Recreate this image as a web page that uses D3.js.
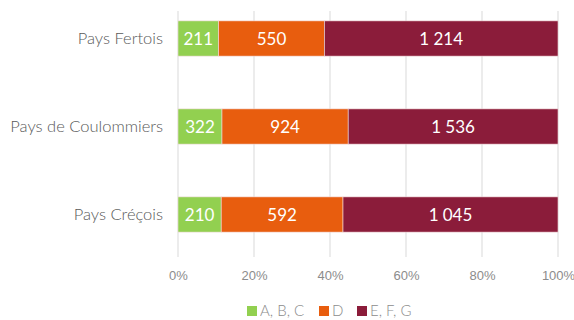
<!DOCTYPE html>
<html>
<head>
<meta charset="utf-8">
<script src="https://cdn.jsdelivr.net/npm/d3@7"></script>
<style>
  html, body { margin: 0; padding: 0; background: #fff; }
  svg { display: block; font-family: "Lato", "Open Sans", sans-serif; }
</style>
</head>
<body>
<svg id="chart" width="574" height="320"></svg>
<script>
// Territories and their counts per class group
const categories = ["Pays Fertois", "Pays de Coulommiers", "Pays Créçois"];
const seriesNames = ["A, B, C", "D", "E, F, G"];
const seriesColors = ["#92d050", "#e85d0e", "#8b1c3a"];
const valuesABC = [211, 322, 210];
const valuesD = [550, 924, 592];
const valuesEFG = [1214, 1536, 1045];
const tickValues = [0, 0.2, 0.4, 0.6, 0.8, 1];

const rows = categories.map((c, i) => ({
  name: c,
  vals: [valuesABC[i], valuesD[i], valuesEFG[i]]
}));

const svg = d3.select("#chart");
const x = d3.scaleLinear().domain([0, 1]).range([178, 558]);
const y = d3.scaleBand().domain(categories).range([-5.5, 258.5]).paddingInner(0.6).paddingOuter(0.3);

const fmt = v => d3.format(",")(v).replace(/,/g, "\u202f");

// vertical gridlines
svg.append("g").selectAll("line").data(tickValues).join("line")
  .attr("x1", d => x(d)).attr("x2", d => x(d))
  .attr("y1", 11).attr("y2", 257)
  .attr("stroke", "#d9d9d9").attr("stroke-width", 1);

// x axis tick labels
const xAxis = d3.axisBottom(x).tickValues(tickValues).tickFormat(d3.format(".0%")).tickSize(0).tickPadding(0);
const gx = svg.append("g").attr("transform", "translate(0,271)").call(xAxis);
gx.select(".domain").remove();
gx.selectAll("text").attr("fill", "#8c8c8c").attr("font-size", 13).attr("font-weight", 300).attr("dy", "0.71em");

// stacked bars
rows.forEach(r => {
  const total = d3.sum(r.vals);
  let acc = 0;
  const segs = r.vals.map((v, k) => {
    const s = { k, v, x0: acc / total, x1: (acc + v) / total };
    acc += v;
    return s;
  });
  const g = svg.append("g");
  g.selectAll("rect").data(segs).join("rect")
    .attr("x", d => x(d.x0)).attr("width", d => x(d.x1) - x(d.x0))
    .attr("y", y(r.name)).attr("height", y.bandwidth())
    .attr("fill", d => seriesColors[d.k])
    .attr("stroke", "#f2dcdc").attr("stroke-width", 0.6);
  g.selectAll("text").data(segs).join("text")
    .attr("x", d => (x(d.x0) + x(d.x1)) / 2)
    .attr("y", y(r.name) + y.bandwidth() / 2)
    .attr("dy", "0.36em")
    .attr("text-anchor", "middle")
    .attr("fill", "#ffffff").attr("font-size", 17)
    .text(d => fmt(d.v));
});

// category axis
const yAxis = d3.axisLeft(y).tickSize(0).tickPadding(15);
const gy = svg.append("g").attr("transform", "translate(178,0)").call(yAxis);
gy.select(".domain").remove();
gy.selectAll("text").attr("fill", "#595959").attr("font-size", 16.5).attr("font-weight", 300).attr("font-family", "Lato, sans-serif");

// legend
const legendX = [247, 319, 357];
const lg = svg.append("g");
seriesNames.forEach((n, i) => {
  lg.append("rect").attr("x", legendX[i]).attr("y", 306).attr("width", 10).attr("height", 10).attr("fill", seriesColors[i]);
  lg.append("text").attr("x", legendX[i] + 13).attr("y", 311).attr("dy", "0.36em")
    .attr("fill", "#8c8c8c").attr("font-size", 15).attr("font-weight", 300).text(n);
});
</script>
</body>
</html>
